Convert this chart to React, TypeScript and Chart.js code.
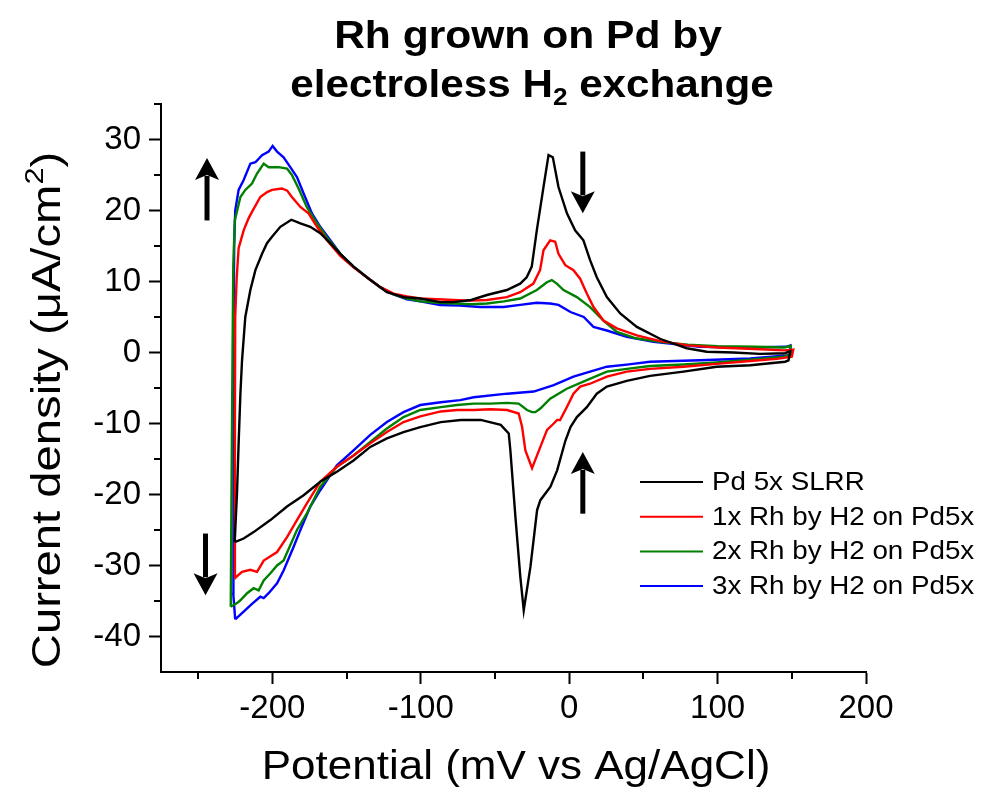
import React, { useEffect, useRef } from "react";
import { Chart, registerables } from "chart.js";

Chart.register(...registerables);

// ---------- data (potential mV, current density µA/cm²) ----------
const seriesLabels = [
  "Pd 5x SLRR",
  "1x Rh by H2 on Pd5x",
  "2x Rh by H2 on Pd5x",
  "3x Rh by H2 on Pd5x",
];
const seriesColors = ["#000000", "#ff0000", "#008000", "#0000ff"];

const pdLoop: [number, number][] = [
  [-225.4, -26.7], [-223.8, -19.9], [-222.7, -12.8], [-221.5, -5.8], [-220.4, -1.1], [-218.2, 5.0],
  [-214.8, 8.8], [-211.4, 11.6], [-206.9, 13.9], [-203.6, 15.4], [-200.2, 16.3], [-194.6, 17.7],
  [-187.2, 18.7], [-181.1, 18.2], [-174.4, 17.7], [-167.7, 16.8], [-160.9, 15.4], [-154.2, 13.9],
  [-145.3, 12.1], [-133.9, 10.2], [-122.8, 8.5], [-111.6, 7.8], [-100.3, 7.6], [-86.9, 7.1],
  [-77.9, 7.1], [-66.0, 7.4], [-55.4, 8.1], [-42.0, 8.8], [-33.0, 9.7], [-28.6, 10.6],
  [-25.2, 12.1], [-21.8, 17.2], [-17.3, 23.3], [-13.9, 27.8], [-11.0, 27.5], [-7.2, 23.3],
  [-1.5, 19.6], [4.0, 17.2], [9.6, 15.8], [14.1, 13.0], [18.6, 10.6], [25.4, 7.8],
  [34.4, 5.5], [45.6, 3.6], [61.5, 1.9], [79.3, 0.6], [92.7, 0.1], [110.7, 0.0],
  [128.6, -0.2], [145.5, -0.1], [149.0, 0.2],
  [147.8, -1.1], [145.5, -1.3], [121.9, -1.8], [99.4, -2.0], [77.0, -2.7], [54.5, -3.3],
  [38.8, -4.0], [25.4, -4.8], [18.6, -5.8], [11.9, -7.7], [5.2, -9.1], [0.9, -10.5],
  [-2.5, -12.4], [-8.1, -16.6], [-12.6, -18.9], [-19.4, -20.8], [-21.6, -22.2], [-26.1, -30.2],
  [-30.6, -36.3], [-32.9, -31.6], [-36.2, -23.2], [-39.6, -13.8], [-40.7, -11.4], [-46.1, -10.2],
  [-59.6, -9.5], [-73.0, -9.5], [-86.5, -9.8], [-100.3, -10.5], [-111.6, -11.2], [-122.8, -12.1],
  [-134.0, -13.3], [-145.3, -15.2], [-156.5, -16.8], [-167.7, -18.2], [-178.9, -20.1], [-190.1, -21.7],
  [-201.3, -23.6], [-212.6, -25.3], [-219.3, -26.2], [-225.4, -26.7],
];

const rh1Loop: [number, number][] = [
  [-225.4, -31.8], [-225.2, -10.0], [-225.0, 5.0], [-224.0, 10.5], [-222.7, 14.7], [-219.3, 17.2],
  [-216.0, 18.9], [-213.7, 19.8], [-208.1, 21.9], [-203.5, 22.6], [-200.2, 22.9], [-193.5, 23.1],
  [-190.0, 22.8], [-186.8, 21.9], [-181.1, 20.5], [-175.6, 19.6], [-169.9, 17.7], [-163.2, 15.8],
  [-154.2, 13.6], [-145.3, 12.0], [-136.3, 10.6], [-127.3, 9.2], [-118.3, 8.3], [-109.3, 7.9],
  [-100.3, 7.6], [-89.0, 7.5], [-77.9, 7.4], [-66.0, 7.3], [-55.4, 7.4], [-42.0, 7.8],
  [-33.0, 8.5], [-24.1, 9.7], [-19.6, 11.6], [-17.3, 14.4], [-12.8, 15.8], [-9.4, 15.6],
  [-7.2, 13.9], [-2.6, 12.3], [2.9, 11.6], [7.4, 10.4], [11.9, 8.3], [16.4, 6.4],
  [23.1, 4.5], [32.1, 3.4], [45.6, 2.4], [61.3, 1.6], [80.0, 1.0], [100.0, 0.7],
  [125.0, 0.5], [145.0, 0.3], [151.0, 0.4],
  [150.0, -0.6], [140.0, -0.9], [121.9, -1.2], [99.4, -1.6], [77.0, -2.0], [54.5, -2.3],
  [38.8, -2.7], [25.4, -3.4], [14.1, -4.4], [7.4, -4.8], [2.9, -5.8], [-1.6, -7.7],
  [-6.1, -9.5], [-8.1, -9.5], [-10.4, -10.0], [-14.9, -10.9], [-19.4, -13.3], [-25.0, -16.3],
  [-29.5, -13.8], [-31.7, -10.5], [-34.0, -8.6], [-41.8, -8.1], [-53.0, -8.0], [-64.3, -8.1],
  [-75.5, -8.1], [-86.5, -8.3], [-100.3, -9.0], [-111.6, -9.8], [-122.8, -11.2], [-134.0, -12.8],
  [-145.3, -14.5], [-156.5, -16.1], [-167.7, -18.2], [-176.8, -21.3], [-183.4, -23.6], [-190.1, -26.0],
  [-196.8, -28.1], [-205.8, -29.3], [-210.3, -30.9], [-214.8, -30.6], [-220.4, -30.9], [-225.4, -31.8],
];

const rh2Loop: [number, number][] = [
  [-228.0, -35.8], [-227.5, -20.0], [-226.8, 0.0], [-226.3, 12.0], [-225.3, 18.6], [-221.5, 21.9],
  [-218.2, 22.9], [-213.7, 23.8], [-210.3, 25.2], [-205.8, 26.6], [-202.5, 26.1], [-195.8, 26.1],
  [-190.1, 25.9], [-186.8, 25.0], [-182.3, 23.1], [-176.8, 20.5], [-169.9, 18.2], [-163.2, 16.2],
  [-154.2, 13.9], [-145.3, 12.1], [-136.3, 10.6], [-127.3, 9.2], [-118.3, 8.2], [-109.3, 7.6],
  [-100.3, 7.2], [-89.0, 7.0], [-77.9, 6.9], [-66.0, 6.8], [-55.4, 6.9], [-44.0, 7.2],
  [-33.0, 7.6], [-21.8, 8.8], [-15.0, 9.9], [-11.7, 10.2], [-8.3, 9.7], [-3.8, 8.8],
  [5.2, 7.8], [14.1, 6.4], [23.1, 4.5], [32.1, 2.9], [45.0, 2.0], [61.0, 1.5],
  [80.0, 1.1], [100.0, 0.9], [125.0, 0.8], [145.0, 0.7], [149.3, 0.9],
  [149.3, -0.3], [145.0, -0.6], [121.9, -1.0], [99.4, -1.4], [77.0, -1.7], [54.5, -1.9],
  [38.8, -2.3], [25.4, -2.7], [11.9, -3.9], [-1.6, -5.1], [-12.8, -6.5], [-19.4, -7.9],
  [-22.8, -8.4], [-25.0, -8.4], [-28.4, -8.1], [-34.0, -7.2], [-41.8, -7.1], [-53.1, -7.2],
  [-64.3, -7.2], [-75.5, -7.4], [-86.5, -7.7], [-100.3, -8.1], [-111.6, -9.1], [-122.8, -10.7],
  [-134.0, -12.6], [-145.3, -14.5], [-156.5, -16.1], [-167.7, -18.9], [-176.8, -22.7], [-183.4, -25.0],
  [-192.4, -29.3], [-196.8, -30.0], [-201.3, -31.1], [-205.8, -32.1], [-209.2, -33.5], [-212.6, -33.2],
  [-217.0, -33.9], [-221.5, -34.9], [-223.8, -35.3], [-228.0, -35.8],
];

const rh3Loop: [number, number][] = [
  [-225.0, -37.6], [-226.3, -34.0], [-226.2, 0.0], [-225.7, 15.0], [-225.0, 20.0], [-222.7, 22.9],
  [-219.3, 24.3], [-214.8, 26.6], [-211.4, 26.8], [-206.9, 27.8], [-202.5, 28.3], [-199.8, 29.1],
  [-196.8, 28.3], [-192.4, 27.5], [-187.9, 26.1], [-183.4, 24.7], [-178.9, 22.4], [-173.3, 19.6],
  [-167.7, 17.7], [-160.9, 15.8], [-154.2, 13.9], [-145.3, 12.1], [-136.3, 10.6], [-127.3, 9.2],
  [-118.3, 8.2], [-109.3, 7.5], [-100.3, 7.2], [-86.9, 6.7], [-73.4, 6.6], [-60.0, 6.4],
  [-44.2, 6.4], [-33.0, 6.7], [-21.8, 7.0], [-12.8, 6.9], [-7.2, 6.7], [0.9, 5.7],
  [9.8, 5.0], [16.4, 3.6], [25.4, 3.1], [38.8, 2.2], [56.8, 1.5], [88.0, 0.8],
  [122.0, 0.7], [146.5, 0.8], [149.0, 1.0],
  [149.0, -0.3], [146.5, -0.4], [121.9, -0.85], [88.2, -1.1], [54.5, -1.3], [38.8, -1.7],
  [25.4, -2.0], [14.1, -2.7], [2.9, -3.4], [-10.4, -4.6], [-23.9, -5.5], [-41.8, -5.8],
  [-64.3, -6.3], [-73.4, -6.7], [-86.5, -7.0], [-100.3, -7.4], [-111.6, -8.4], [-122.8, -9.8],
  [-134.0, -11.6], [-145.3, -13.8], [-156.5, -15.9], [-167.7, -19.4], [-174.4, -21.7], [-181.1, -25.0],
  [-185.7, -27.4], [-192.4, -30.7], [-196.8, -32.5], [-202.5, -33.9], [-205.8, -34.6], [-208.1, -34.4],
  [-213.7, -35.4], [-219.3, -36.5], [-225.0, -37.6],
];

const seriesLoops = [pdLoop, rh1Loop, rh2Loop, rh3Loop];

const xMin = -275;
const xMax = 200;
const yMin = -45;
const yMax = 35;
const xTicks = [-200, -100, 0, 100, 200];
const xMinorTicks = [-250, -150, -50, 50, 150];
const yTicks = [-40, -30, -20, -10, 0, 10, 20, 30];
const yMinorTicks = [-35, -25, -15, -5, 5, 15, 25, 35];

// arrows: x (mV), from -> to (µA/cm²), arrow tip at "to"
const arrowX = [-244, 9.2, -245, 9.2];
const arrowFrom = [18.6, 28.3, -25.5, -22.7];
const arrowTo = [27.4, 19.6, -34.2, -14.0];

const titleLine1 = "Rh grown on Pd by";
const titleLine2 = ["electroless H", "2", " exchange"];
const yTitleParts = ["Current density (\u03bcA/cm", "2", ")"];
const xTitle = "Potential (mV vs Ag/AgCl)";

const FONT = '"Liberation Sans", Arial, Helvetica, sans-serif';

function drawArrow(ctx: CanvasRenderingContext2D, x: number, y1: number, y2: number) {
  const dir = y2 > y1 ? 1 : -1;
  const headLen = 22;
  const halfW = 12;
  const notch = 5;
  ctx.save();
  ctx.strokeStyle = "#000";
  ctx.fillStyle = "#000";
  ctx.lineWidth = 5;
  ctx.lineCap = "butt";
  ctx.beginPath();
  ctx.moveTo(x, y1);
  ctx.lineTo(x, y2 - dir * (headLen - 4));
  ctx.stroke();
  ctx.beginPath();
  ctx.moveTo(x, y2);
  ctx.lineTo(x - halfW, y2 - dir * headLen);
  ctx.lineTo(x, y2 - dir * (headLen - notch));
  ctx.lineTo(x + halfW, y2 - dir * headLen);
  ctx.closePath();
  ctx.fill();
  ctx.restore();
}

type Part = { t: string; size: number; bold?: boolean; dy: number };

function partsWidth(ctx: CanvasRenderingContext2D, parts: Part[]) {
  let w = 0;
  parts.forEach((p) => {
    ctx.font = `${p.bold ? "bold " : ""}${p.size}px ${FONT}`;
    w += ctx.measureText(p.t).width;
  });
  return w;
}

// draws text parts centred on cx, stretched horizontally by sx
function drawParts(ctx: CanvasRenderingContext2D, parts: Part[], cx: number, y: number, sx: number) {
  const w = partsWidth(ctx, parts);
  ctx.save();
  ctx.translate(cx, y);
  ctx.scale(sx, 1);
  let x = -w / 2;
  ctx.textAlign = "left";
  ctx.textBaseline = "alphabetic";
  parts.forEach((p) => {
    ctx.font = `${p.bold ? "bold " : ""}${p.size}px ${FONT}`;
    ctx.fillText(p.t, x, p.dy);
    x += ctx.measureText(p.t).width;
  });
  ctx.restore();
}

const overlayPlugin = {
  id: "overlay",
  afterDraw(chart: any) {
    const ctx: CanvasRenderingContext2D = chart.ctx;
    const xs = chart.scales.x;
    const ys = chart.scales.y;
    const area = chart.chartArea;
    ctx.save();
    // minor ticks
    ctx.strokeStyle = "#000";
    ctx.lineWidth = 2;
    xMinorTicks.forEach((v) => {
      const px = Math.round(xs.getPixelForValue(v));
      ctx.beginPath();
      ctx.moveTo(px, area.bottom);
      ctx.lineTo(px, area.bottom + 7);
      ctx.stroke();
    });
    yMinorTicks.forEach((v) => {
      const py = Math.round(ys.getPixelForValue(v));
      ctx.beginPath();
      ctx.moveTo(area.left, py);
      ctx.lineTo(area.left - 7, py);
      ctx.stroke();
    });

    // arrows
    arrowX.forEach((ax, i) => {
      drawArrow(ctx, xs.getPixelForValue(ax), ys.getPixelForValue(arrowFrom[i]), ys.getPixelForValue(arrowTo[i]));
    });

    // legend
    const legX0 = 640;
    const legX1 = 703;
    const legTextX = 712;
    const legY0 = 482;
    const legDy = 34.7;
    seriesLabels.forEach((lab, i) => {
      const y = legY0 + i * legDy;
      ctx.strokeStyle = seriesColors[i];
      ctx.lineWidth = 2;
      ctx.beginPath();
      ctx.moveTo(legX0, y);
      ctx.lineTo(legX1, y);
      ctx.stroke();
      ctx.save();
      ctx.translate(legTextX, y + 1);
      ctx.scale(1.11, 1);
      ctx.fillStyle = "#000";
      ctx.font = `25px ${FONT}`;
      ctx.textAlign = "left";
      ctx.textBaseline = "middle";
      ctx.fillText(lab, 0, 0);
      ctx.restore();
    });

    // chart title
    ctx.fillStyle = "#000";
    const ts = 38;
    drawParts(ctx, [{ t: titleLine1, size: ts, bold: true, dy: 0 }], 528, 48, 1.12);
    drawParts(
      ctx,
      [
        { t: titleLine2[0], size: ts, bold: true, dy: 0 },
        { t: titleLine2[1], size: ts * 0.62, bold: true, dy: ts * 0.22 },
        { t: titleLine2[2], size: ts, bold: true, dy: 0 },
      ],
      532,
      97,
      1.11
    );

    // x axis title
    drawParts(ctx, [{ t: xTitle, size: 40, dy: 0 }], 516, 779, 1.1);

    // y axis title
    ctx.save();
    ctx.translate(60, 410);
    ctx.rotate(-Math.PI / 2);
    drawParts(
      ctx,
      [
        { t: yTitleParts[0], size: 40, dy: 0 },
        { t: yTitleParts[1], size: 26, dy: -17 },
        { t: yTitleParts[2], size: 40, dy: 0 },
      ],
      0,
      0,
      1.18
    );
    ctx.restore();

    ctx.restore();
  },
};

export default function App() {
  const canvasRef = useRef<HTMLCanvasElement | null>(null);

  useEffect(() => {
    const canvas = canvasRef.current;
    if (!canvas) return;
    const datasets = seriesLoops.map((loop, i) => ({
      label: seriesLabels[i],
      data: loop.map(([x, y]) => ({ x, y })),
      borderColor: seriesColors[i],
      backgroundColor: seriesColors[i],
      borderWidth: 2.4,
      pointRadius: 0,
      showLine: true,
      tension: 0,
      fill: false,
    }));
    const tickFont = { family: FONT, size: 33 };
    const chart = new Chart(canvas, {
      type: "scatter",
      data: { datasets },
      options: {
        responsive: false,
        animation: false,
        events: [],
        layout: { padding: { left: 0, right: 116, top: 104, bottom: 0 } },
        plugins: {
          legend: { display: false },
          title: { display: false },
          tooltip: { enabled: false },
        },
        scales: {
          x: {
            type: "linear",
            min: xMin,
            max: xMax,
            afterBuildTicks: (scale: any) => {
              scale.ticks = xTicks.map((v) => ({ value: v }));
            },
            afterFit: (scale: any) => {
              scale.height = 118;
            },
            ticks: {
              color: "#000",
              font: tickFont,
              padding: 5,
              maxRotation: 0,
              autoSkip: false,
              callback: (v: any) => String(v),
            },
            grid: {
              drawOnChartArea: false,
              drawTicks: true,
              tickLength: 12,
              tickWidth: 2,
              tickColor: "#000",
            },
            border: { display: true, color: "#000", width: 2 },
          },
          y: {
            type: "linear",
            min: yMin,
            max: yMax,
            afterBuildTicks: (scale: any) => {
              scale.ticks = yTicks.map((v) => ({ value: v }));
            },
            afterFit: (scale: any) => {
              scale.width = 161;
            },
            ticks: {
              color: "#000",
              font: tickFont,
              padding: 8,
              autoSkip: false,
              callback: (v: any) => String(v),
            },
            grid: {
              drawOnChartArea: false,
              drawTicks: true,
              tickLength: 12,
              tickWidth: 2,
              tickColor: "#000",
            },
            border: { display: true, color: "#000", width: 2 },
          },
        },
      },
      plugins: [overlayPlugin],
    });
    return () => chart.destroy();
  }, []);

  return (
    <div style={{ position: "absolute", left: 0, top: 0, width: 982, height: 790, background: "#fff" }}>
      <canvas ref={canvasRef} width={982} height={790} style={{ display: "block" }} />
    </div>
  );
}
